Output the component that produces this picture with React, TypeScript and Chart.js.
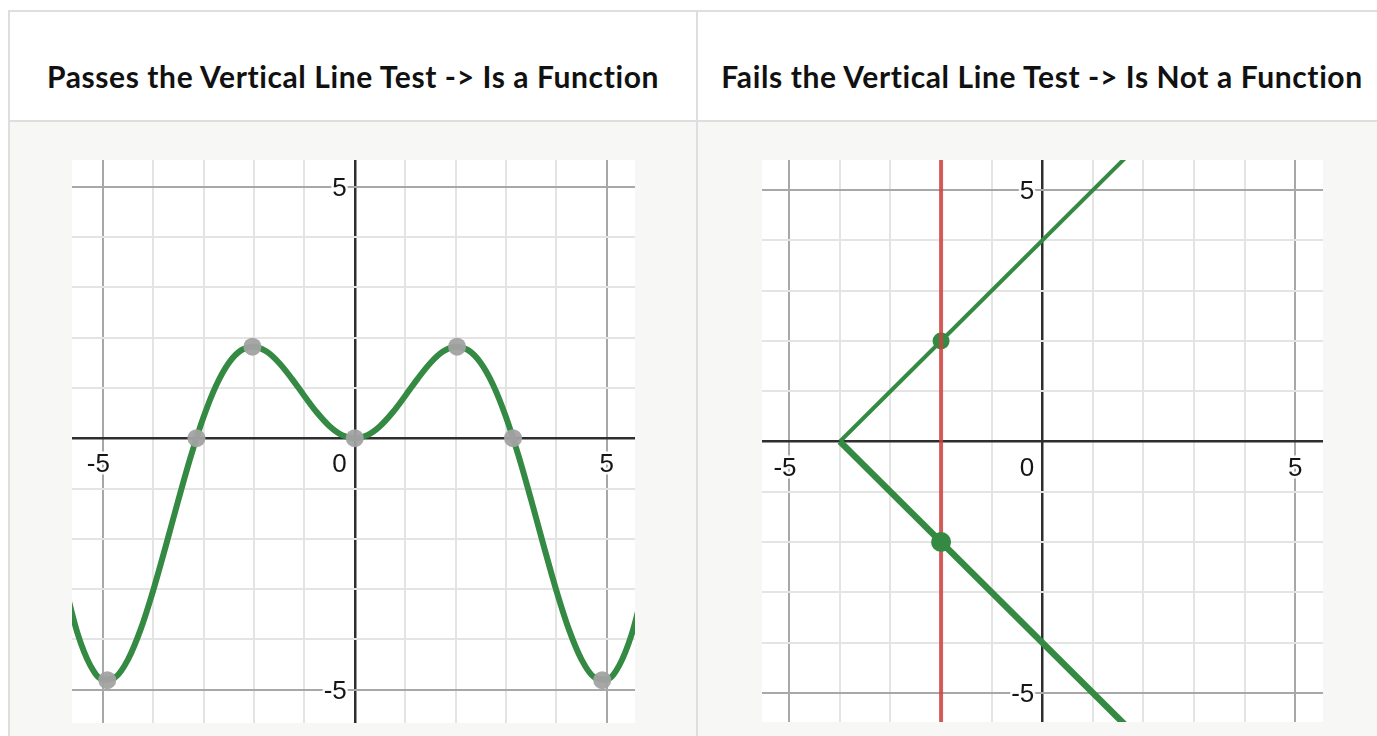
import React, { useEffect, useRef } from "react";
import { Chart, registerables } from "chart.js";

Chart.register(...registerables);

// ---------- data ----------
const headerLeft = "Passes the Vertical Line Test -> Is a Function";
const headerRight = "Fails the Vertical Line Test -> Is Not a Function";

const tickLabelsX = [-5, 0, 5];
const tickLabelsY = [5, -5];

// left graph: smooth curve
const curveX = [
  -5.75, -5.5, -5.25, -5, -4.75, -4.5, -4.25, -4, -3.75, -3.5, -3.25, -3, -2.75, -2.5, -2.25, -2,
  -1.75, -1.5, -1.25, -1, -0.75, -0.5, -0.25, 0, 0.25, 0.5, 0.75, 1, 1.25, 1.5, 1.75, 2, 2.25,
  2.5, 2.75, 3, 3.25, 3.5, 3.75, 4, 4.25, 4.5, 4.75, 5, 5.25, 5.5, 5.75,
];
const curveY = [
  -2.923, -3.88, -4.509, -4.795, -4.747, -4.399, -3.804, -3.027, -2.144, -1.228, -0.352, 0.423,
  1.05, 1.496, 1.751, 1.819, 1.722, 1.496, 1.186, 0.841, 0.511, 0.24, 0.062, 0, 0.062, 0.24, 0.511,
  0.841, 1.186, 1.496, 1.722, 1.819, 1.751, 1.496, 1.05, 0.423, -0.352, -1.228, -2.144, -3.027,
  -3.804, -4.399, -4.747, -4.795, -4.509, -3.88, -2.923,
];
const keyPointX = [-4.91, -3.14, -2.03, 0, 2.03, 3.14, 4.91];
const keyPointY = [-4.81, 0, 1.82, 0, 1.82, 0, -4.81];

// right graph: sideways V and a vertical test line
const upperBranchX = [-4, 2];
const upperBranchY = [0, 6];
const lowerBranchX = [-4, 2];
const lowerBranchY = [0, -6];
const testLineX = [-2, -2];
const testLineY = [-6, 6];
const upperHitX = [-2];
const upperHitY = [2];
const lowerHitX = [-2];
const lowerHitY = [-2];

const leftRange = { xMin: -5.61, xMax: 5.56, yMin: -5.66, yMax: 5.53 };
const rightRange = { xMin: -5.54, xMax: 5.55, yMin: -5.58, yMax: 5.6 };

// ---------- styles ----------
const GREEN = "#358a43";
const RED = "rgba(204,66,62,0.85)";
const GRAY_DOT = "rgba(162,162,162,0.95)";

const pts = (xs: number[], ys: number[]) => xs.map((x, i) => ({ x, y: ys[i] }));

const labelPlugin = {
  id: "desmosLabels",
  afterDatasetsDraw(chart: any) {
    const { ctx, scales } = chart;
    const xs = scales.x;
    const ys = scales.y;
    const x0 = xs.getPixelForValue(0);
    const y0 = ys.getPixelForValue(0);
    ctx.save();
    ctx.font = "26px 'Liberation Sans', Arial, sans-serif";
    ctx.textBaseline = "alphabetic";
    ctx.lineJoin = "round";
    const draw = (t: string, x: number, y: number, align: CanvasTextAlign) => {
      ctx.textAlign = align;
      ctx.strokeStyle = "rgba(255,255,255,0.92)";
      ctx.lineWidth = 5;
      ctx.strokeText(t, x, y);
      ctx.fillStyle = "#151515";
      ctx.fillText(t, x, y);
    };
    const capH = 18.6;
    tickLabelsX.forEach((v) => {
      const t = String(v);
      if (v === 0) {
        draw(t, x0 - 8, y0 + 34, "right");
      } else {
        const px = xs.getPixelForValue(v);
        const w = ctx.measureText(String(Math.abs(v))).width;
        draw(t, px + w / 2, y0 + 34, "right");
      }
    });
    tickLabelsY.forEach((v) => {
      const py = ys.getPixelForValue(v);
      draw(String(v), x0 - 8, py + capH / 2, "right");
    });
    ctx.restore();
  },
};

function gridOptions() {
  return {
    drawTicks: false,
    color: (c: any) => {
      const v = c.tick ? c.tick.value : 1;
      if (v === 0) return "#2e2e2e";
      if (Math.abs(v) === 5) return "#a8a8a8";
      return "#e4e4e4";
    },
    lineWidth: (c: any) => {
      const v = c.tick ? c.tick.value : 1;
      if (v === 0) return 2.5;
      return 2;
    },
  };
}

function buildOptions(r: { xMin: number; xMax: number; yMin: number; yMax: number }) {
  return {
    responsive: false,
    animation: false as const,
    layout: { padding: 0, autoPadding: false },
    plugins: { legend: { display: false }, tooltip: { enabled: false } },
    events: [],
    scales: {
      x: {
        type: "linear" as const,
        min: r.xMin,
        max: r.xMax,
        border: { display: false },
        grid: gridOptions(),
        ticks: { display: false, stepSize: 1, includeBounds: false },
      },
      y: {
        type: "linear" as const,
        min: r.yMin,
        max: r.yMax,
        border: { display: false },
        grid: gridOptions(),
        ticks: { display: false, stepSize: 1, includeBounds: false },
      },
    },
  };
}

function Graph({ which, width, height }: { which: "left" | "right"; width: number; height: number }) {
  const ref = useRef<HTMLCanvasElement>(null);
  useEffect(() => {
    if (!ref.current) return;
    let datasets: any[];
    if (which === "left") {
      datasets = [
        {
          data: pts(keyPointX, keyPointY),
          showLine: false,
          pointRadius: 9,
          pointBackgroundColor: GRAY_DOT,
          pointBorderWidth: 0,
          order: 0,
        },
        {
          data: pts(curveX, curveY),
          showLine: true,
          borderColor: GREEN,
          borderWidth: 6,
          pointRadius: 0,
          cubicInterpolationMode: "monotone",
          borderCapStyle: "round",
          order: 1,
        },
      ];
    } else {
      datasets = [
        {
          data: pts(lowerHitX, lowerHitY),
          showLine: false,
          pointRadius: 10,
          pointBackgroundColor: GREEN,
          pointBorderWidth: 0,
          order: 0,
        },
        {
          data: pts(lowerBranchX, lowerBranchY),
          showLine: true,
          borderColor: GREEN,
          borderWidth: 6.5,
          pointRadius: 0,
          order: 1,
        },
        {
          data: pts(testLineX, testLineY),
          showLine: true,
          borderColor: RED,
          borderWidth: 4,
          pointRadius: 0,
          order: 2,
        },
        {
          data: pts(upperHitX, upperHitY),
          showLine: false,
          pointRadius: 8.5,
          pointBackgroundColor: GREEN,
          pointBorderWidth: 0,
          order: 3,
        },
        {
          data: pts(upperBranchX, upperBranchY),
          showLine: true,
          borderColor: GREEN,
          borderWidth: 4,
          pointRadius: 0,
          order: 4,
        },
      ];
    }
    const chart = new Chart(ref.current, {
      type: "scatter",
      data: { datasets },
      options: buildOptions(which === "left" ? leftRange : rightRange) as any,
      plugins: [labelPlugin],
    });
    return () => chart.destroy();
  }, [which]);
  return <canvas ref={ref} width={width} height={height} style={{ display: "block", width, height }} />;
}

const abs = (s: React.CSSProperties): React.CSSProperties => ({ position: "absolute", ...s });

export default function App() {
  const headerText: React.CSSProperties = {
    fontFamily: "Lato, 'Noto Sans', sans-serif",
    fontWeight: 700,
    fontSize: 30,
    letterSpacing: "0.6px",
    lineHeight: "36px",
    color: "#111",
    textAlign: "center",
    whiteSpace: "nowrap",
  };
  return (
    <div style={{ position: "fixed", inset: 0, background: "#fff", overflow: "hidden" }}>
      {/* body background */}
      <div style={abs({ left: 10, top: 122, width: 1400, height: 700, background: "#f7f7f5" })} />
      {/* borders */}
      <div style={abs({ left: 8, top: 10, width: 1400, height: 2, background: "#dedede" })} />
      <div style={abs({ left: 8, top: 120, width: 1400, height: 2, background: "#dedede" })} />
      <div style={abs({ left: 8, top: 10, width: 2, height: 760, background: "#dedede" })} />
      <div style={abs({ left: 696, top: 10, width: 2, height: 760, background: "#dedede" })} />
      {/* headers */}
      <div style={abs({ left: 10, top: 58, width: 686, ...headerText })}>{headerLeft}</div>
      <div style={abs({ left: 698, top: 58, width: 688, ...headerText })}>{headerRight}</div>
      {/* graphs */}
      <div style={abs({ left: 72, top: 160, width: 563, height: 563, background: "#fff" })}>
        <Graph which="left" width={563} height={563} />
      </div>
      <div style={abs({ left: 762, top: 160, width: 561, height: 562, background: "#fff" })}>
        <Graph which="right" width={561} height={562} />
      </div>
    </div>
  );
}
